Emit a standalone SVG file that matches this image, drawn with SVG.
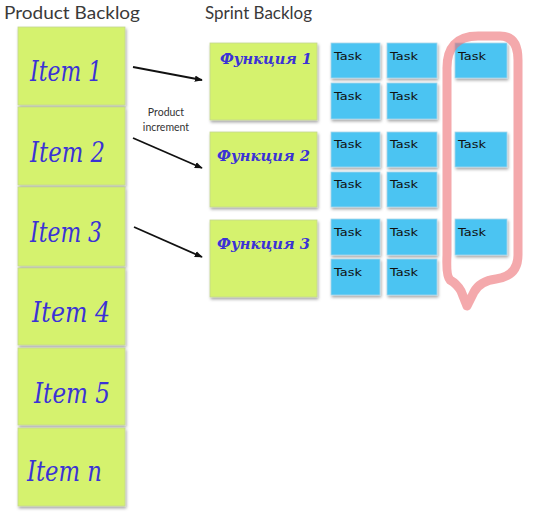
<svg xmlns="http://www.w3.org/2000/svg" width="535" height="516" viewBox="0 0 535 516">
<defs>
<filter id="sh" x="-10%" y="-10%" width="130%" height="130%">
<feDropShadow dx="1" dy="2" stdDeviation="1.6" flood-color="#000" flood-opacity="0.35"/>
</filter>
<marker id="ah" viewBox="0 0 10 10" refX="9" refY="5" markerWidth="8" markerHeight="8" orient="auto" markerUnits="userSpaceOnUse">
<path d="M0,1 L10,5 L0,9 Z" fill="#111"/>
</marker>
</defs>
<style>
.title{font-family:Lato,"Open Sans",sans-serif;font-size:17px;fill:#3a3a3a;}
.item{fill:#d5f26e;stroke:#c4d890;stroke-width:0.8;filter:url(#sh);}
.task{fill:#4cc4f2;stroke:#a8d8ea;stroke-width:0.8;filter:url(#sh);}
.it{font-family:"DejaVu Serif",serif;font-style:italic;font-size:27px;fill:#3b32d6;}
.fn{font-family:"DejaVu Serif",serif;font-style:italic;font-weight:bold;font-size:15px;fill:#3b32d6;}
.tk{font-family:"DejaVu Sans",sans-serif;font-size:11px;fill:#111;}
.lbl{font-family:Lato,"Open Sans",sans-serif;font-size:10.5px;fill:#333;text-anchor:middle;}
.conn{stroke:#111;stroke-width:1.8;fill:none;marker-end:url(#ah);}
</style>
<rect width="535" height="516" fill="#fff"/>
<text class="title" x="4" y="19" textLength="136" lengthAdjust="spacingAndGlyphs">Product Backlog</text>
<text class="title" x="205" y="19" textLength="107" lengthAdjust="spacingAndGlyphs">Sprint Backlog</text>

<g id="item1"><rect class="item" x="18" y="27" width="107" height="78"/><text class="it" x="30" y="81" textLength="72" lengthAdjust="spacingAndGlyphs">Item 1</text></g>
<g id="item2"><rect class="item" x="18" y="107" width="107" height="78"/><text class="it" x="30" y="162" textLength="75" lengthAdjust="spacingAndGlyphs">Item 2</text></g>
<g id="item3"><rect class="item" x="18" y="187" width="107" height="79"/><text class="it" x="30" y="242" textLength="72" lengthAdjust="spacingAndGlyphs">Item 3</text></g>
<g id="item4"><rect class="item" x="18" y="268" width="107" height="77"/><text class="it" x="32" y="322" textLength="78" lengthAdjust="spacingAndGlyphs">Item 4</text></g>
<g id="item5"><rect class="item" x="18" y="348" width="107" height="77"/><text class="it" x="34" y="403" textLength="76" lengthAdjust="spacingAndGlyphs">Item 5</text></g>
<g id="itemn"><rect class="item" x="18" y="428" width="107" height="78"/><text class="it" x="27" y="481" textLength="75" lengthAdjust="spacingAndGlyphs">Item n</text></g>

<g id="func1"><rect class="item" x="210" y="43" width="107" height="77"/><text class="fn" x="220" y="64" textLength="92" lengthAdjust="spacingAndGlyphs">Функция 1</text></g>
<g id="func2"><rect class="item" x="210" y="132" width="107" height="75"/><text class="fn" x="217" y="161" textLength="93" lengthAdjust="spacingAndGlyphs">Функция 2</text></g>
<g id="func3"><rect class="item" x="210" y="220" width="107" height="77"/><text class="fn" x="217" y="249" textLength="93" lengthAdjust="spacingAndGlyphs">Функция 3</text></g>

<g id="tasks">
<g id="t1"><rect class="task" x="331" y="43" width="49" height="35"/><text class="tk" x="334" y="60" textLength="28" lengthAdjust="spacingAndGlyphs">Task</text></g>
<g id="t2"><rect class="task" x="387" y="43" width="50" height="35"/><text class="tk" x="390" y="60" textLength="28" lengthAdjust="spacingAndGlyphs">Task</text></g>
<g id="t3"><rect class="task" x="455" y="43" width="52" height="35"/><text class="tk" x="458" y="60" textLength="28" lengthAdjust="spacingAndGlyphs">Task</text></g>
<g id="t4"><rect class="task" x="331" y="83" width="49" height="36"/><text class="tk" x="334" y="100" textLength="28" lengthAdjust="spacingAndGlyphs">Task</text></g>
<g id="t5"><rect class="task" x="387" y="83" width="50" height="36"/><text class="tk" x="390" y="100" textLength="28" lengthAdjust="spacingAndGlyphs">Task</text></g>
<g id="t6"><rect class="task" x="331" y="132" width="49" height="35"/><text class="tk" x="334" y="148" textLength="28" lengthAdjust="spacingAndGlyphs">Task</text></g>
<g id="t7"><rect class="task" x="387" y="132" width="50" height="35"/><text class="tk" x="390" y="148" textLength="28" lengthAdjust="spacingAndGlyphs">Task</text></g>
<g id="t8"><rect class="task" x="455" y="132" width="52" height="35"/><text class="tk" x="458" y="148" textLength="28" lengthAdjust="spacingAndGlyphs">Task</text></g>
<g id="t9"><rect class="task" x="331" y="172" width="49" height="35"/><text class="tk" x="334" y="188" textLength="28" lengthAdjust="spacingAndGlyphs">Task</text></g>
<g id="t10"><rect class="task" x="387" y="172" width="50" height="35"/><text class="tk" x="390" y="188" textLength="28" lengthAdjust="spacingAndGlyphs">Task</text></g>
<g id="t11"><rect class="task" x="331" y="219" width="49" height="36"/><text class="tk" x="334" y="236" textLength="28" lengthAdjust="spacingAndGlyphs">Task</text></g>
<g id="t12"><rect class="task" x="387" y="219" width="50" height="36"/><text class="tk" x="390" y="236" textLength="28" lengthAdjust="spacingAndGlyphs">Task</text></g>
<g id="t13"><rect class="task" x="455" y="219" width="52" height="36"/><text class="tk" x="458" y="236" textLength="28" lengthAdjust="spacingAndGlyphs">Task</text></g>
<g id="t14"><rect class="task" x="331" y="259" width="49" height="36"/><text class="tk" x="334" y="276" textLength="28" lengthAdjust="spacingAndGlyphs">Task</text></g>
<g id="t15"><rect class="task" x="387" y="259" width="50" height="36"/><text class="tk" x="390" y="276" textLength="28" lengthAdjust="spacingAndGlyphs">Task</text></g>
</g>

<g id="highlight">
<path d="M447,70 Q446,36 478,36 L500,36 Q518,36 518,60 L518,255 Q518,276 496,279 Q480,281 474,292 L467,306 L461,291 Q457,284 450,280 Q446,276 447,255 Z" fill="none" stroke="#ec6f74" stroke-opacity="0.6" stroke-width="9" stroke-linejoin="round"/>
</g>

<g id="connectors">
<line class="conn" x1="133" y1="67" x2="202" y2="80"/>
<line class="conn" x1="133" y1="138" x2="202" y2="168"/>
<line class="conn" x1="134" y1="227" x2="202" y2="257"/>
</g>
<g id="label">
<text class="lbl" x="166" y="116">Product</text>
<text class="lbl" x="166" y="131">increment</text>
</g>
</svg>
